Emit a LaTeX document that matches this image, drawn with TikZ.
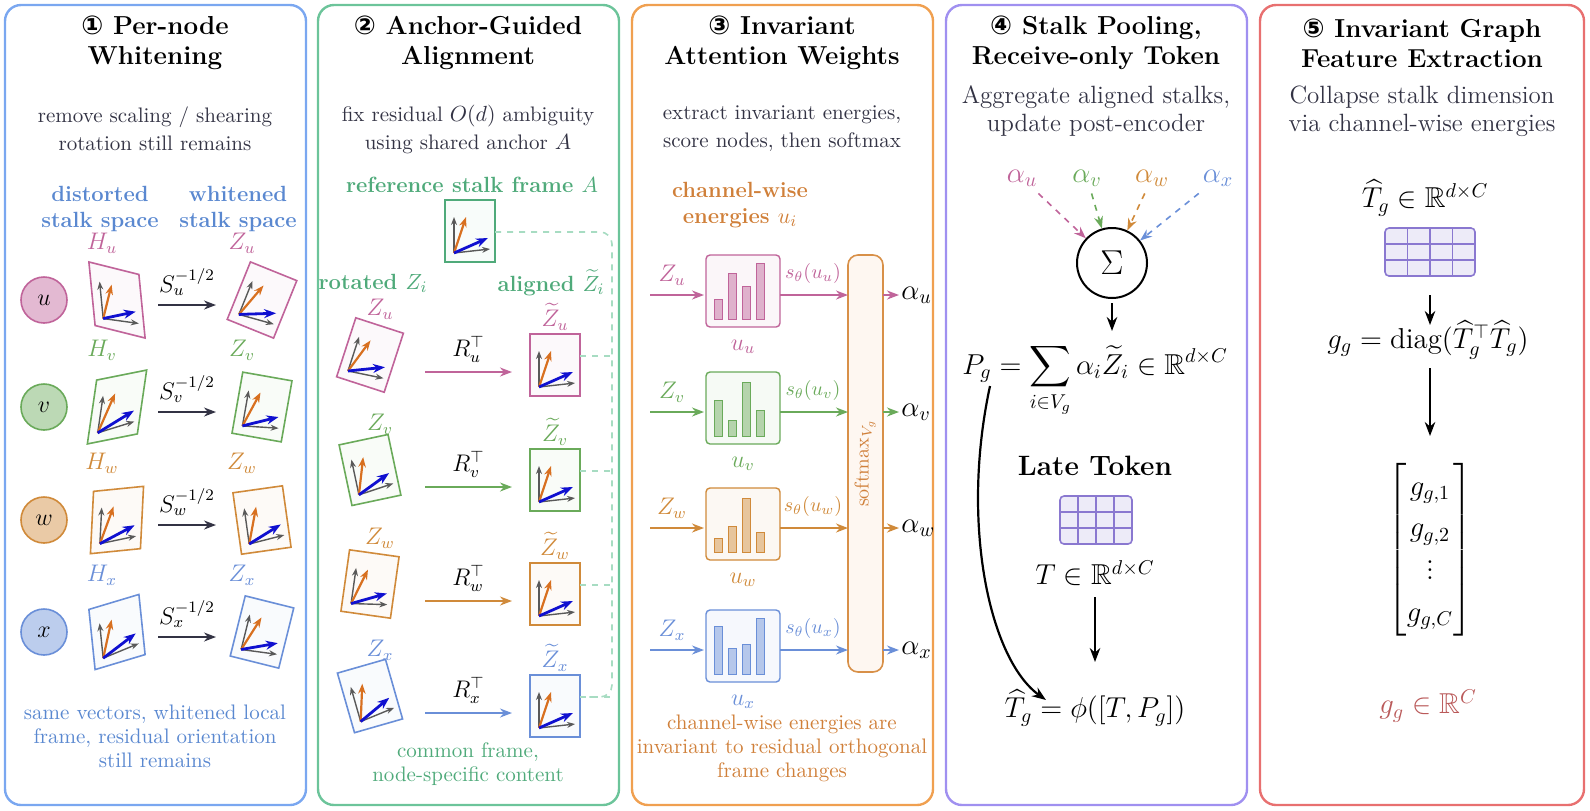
\documentclass[tikz,border=0pt]{standalone}
\usepackage{amsmath,amssymb}
\usepackage{fontspec}
\newfontfamily\dvs{DejaVu Sans}
\usetikzlibrary{arrows.meta}
\definecolor{cu}{HTML}{C0649A}
\definecolor{cv}{HTML}{6AAA5A}
\definecolor{cw}{HTML}{D08A3A}
\definecolor{cx}{HTML}{6A8FD8}
\definecolor{pb}{HTML}{7AA7F0}
\definecolor{pg}{HTML}{6CC49A}
\definecolor{po}{HTML}{F0A050}
\definecolor{pp}{HTML}{A090F0}
\definecolor{pr}{HTML}{E87070}
\definecolor{tb}{HTML}{5A88D0}
\definecolor{tg}{HTML}{4FAA7A}
\definecolor{to}{HTML}{D0803A}
\definecolor{txt}{HTML}{333344}
\definecolor{gpur}{HTML}{8A78D0}
\definecolor{ora}{HTML}{D87020}
\definecolor{blv}{HTML}{1010D0}
\newcommand\stk[4]{%
\begin{scope}[shift={(#1,#2)},#4]
\draw[#3,fill=#3!4,line width=0.8pt] (-25,-31) rectangle (25,31);
\draw[gray!70!black,line width=0.7pt,-{Stealth[length=4pt]}] (-16,22)--(-16,-14);
\draw[gray!70!black,line width=0.7pt,-{Stealth[length=4pt]}] (-16,22)--(20,18);
\draw[ora,line width=1.1pt,-{Stealth[length=5pt]}] (-16,22)--(-4,-14);
\draw[blv,line width=1.4pt,-{Stealth[length=6pt]}] (-16,22)--(18,7);
\end{scope}}
\newcommand\bars[6]{% x y color h1..h3
\begin{scope}[shift={(#1,#2)}]
\draw[#3,fill=#3!6,rounded corners=2pt,line width=0.7pt] (0,0) rectangle (74,72);
\foreach \i/\h in {0/#4,1/#5,2/#6} {\draw[#3,fill=#3!50,line width=0.5pt] (8+\i*14,64) rectangle (16+\i*14,64-\h);}
\end{scope}}
\newcommand\grid[3]{% x y w
\begin{scope}[shift={(#1,#2)}]
\draw[gpur,fill=gpur!15,rounded corners=2pt,line width=0.8pt] (0,0) rectangle (#3,48);
\foreach \k in {1,2,3} \draw[gpur,line width=0.6pt] (\k*#3/4,0)--(\k*#3/4,48);
\foreach \k in {1,2} \draw[gpur,line width=0.6pt] (0,\k*16)--(#3,\k*16);
\end{scope}}
\begin{document}
\begin{tikzpicture}[x=0.5pt,y=-0.5pt,
 panel/.style={rounded corners=8pt,line width=1.2pt},
 ttl/.style={font=\fontsize{13}{15}\selectfont\bfseries,text=black,align=center},
 ttls/.style={font=\fontsize{11}{13}\selectfont\bfseries,align=center},
 sub/.style={font=\fontsize{10.5}{14}\selectfont,text=txt,align=center},
 sub2/.style={font=\fontsize{12.5}{14}\selectfont,text=txt,align=center},
 bot/.style={font=\fontsize{10.5}{12}\selectfont,align=center},
 lab/.style={font=\large},
 arr/.style={line width=0.9pt,-{Stealth[length=6pt]}},
 barr/.style={line width=1pt,-{Stealth[length=7pt]}}]
\useasboundingbox (0,0) rectangle (1590,810);
% panels
\draw[panel,pb] (5,5) rectangle (306,805);
\draw[panel,pg] (318,5) rectangle (619,805);
\draw[panel,po] (632,5) rectangle (933,805);
\draw[panel,pp] (946,5) rectangle (1247,805);
\draw[panel,pr] (1260,5) rectangle (1584,805);
% ---------- Panel 1
\node[ttl] (t1) at (155,43) {{\dvs ①} Per-node\\Whitening};
\node[sub] (s1) at (155,129) {remove scaling / shearing\\rotation still remains};
\node[ttls,text=tb] (d1) at (100,209) {distorted\\stalk space};
\node[ttls,text=tb] (w1) at (238,209) {whitened\\stalk space};
\foreach \n/\c/\y/\sa/\sb/\r in {u/cu/300/-0.25/-0.1/-22,v/cv/407/0.2/0.15/-10,w/cw/520/0.1/0.05/8,x/cx/632/0.3/-0.1/-14} {
 \node[circle,draw=\c,fill=\c!45,line width=0.8pt,inner sep=0pt,minimum size=23pt,font=\large] (n\n) at (44,\y) {$\n$};
 \stk{117}{\y}{\c}{yslant=\sa,xslant=\sb}
 \stk{262}{\y}{\c}{rotate=\r}
 \node[text=\c,lab] (h\n) at (102,\y-57) {$H_\n$};
 \node[text=\c,lab] (z\n) at (242,\y-57) {$Z_\n$};
 \coordinate (a\n) at (158,\y+5); \coordinate (b\n) at (216,\y+5);
 \draw[arr,txt] (a\n) -- node[above,text=black,lab,yshift=1pt] {$S_\n^{-1/2}$} (b\n);
}
\node[bot,text=tb] (f1) at (155,736) {same vectors, whitened local\\frame, residual orientation\\still remains};
% ---------- Panel 2
\node[ttl] (t2) at (468,43) {{\dvs ②} Anchor-Guided\\Alignment};
\node[sub] (s2) at (468,129) {fix residual $O(d)$ ambiguity\\using shared anchor $A$};
\node[ttls,text=tg] (r2) at (472,185) {reference stalk frame $A$};
\stk{470}{231}{tg}{}
\coordinate (aR) at (495,232);
\node[ttls,text=tg] (ro) at (373,283) {rotated $Z_i$};
\node[ttls,text=tg] (al) at (551,283) {aligned $\widetilde Z_i$};
\draw[pg!60,dashed,line width=0.8pt,rounded corners=6pt] (aR) -- (612,232) -- (612,697) -- (580,697);
\foreach \n/\c/\y/\r in {u/cu/365/-18,v/cv/480/12,w/cw/594/-8,x/cx/706/16} {
 \stk{370}{\y-10}{\c}{rotate=\r}
 \stk{555}{\y}{\c}{}
 \node[text=\c,lab] (rz\n) at (380,\y-56) {$Z_\n$};
 \node[text=\c,lab] (az\n) at (555,\y-48) {$\widetilde Z_\n$};
 \coordinate (ra\n) at (425,\y+7); \coordinate (rb\n) at (512,\y+7);
 \draw[arr,\c] (ra\n) -- node[above,text=black,lab,yshift=1pt] {$R_\n^{\top}$} (rb\n);
 \draw[pg!60,dashed,line width=0.8pt] (580,\y-9) -- (612,\y-9);
}
\node[bot,text=tg] (f2) at (468,764) {common frame,\\node-specific content};
% ---------- Panel 3
\node[ttl] (t3) at (782,43) {{\dvs ③} Invariant\\Attention Weights};
\node[sub] (s3) at (782,129) {extract invariant energies,\\score nodes, then softmax};
\node[ttls,text=to] (ce) at (740,205) {channel-wise\\energies $u_i$};
\draw[po!90!black,fill=po!8,rounded corners=5pt,line width=0.8pt] (848,255) rectangle (883,672);
\node[rotate=90,text=to,font=\normalsize] (smx) at (865,463) {softmax$_{V_g}$};
\foreach \n/\c/\y/\ha/\hb/\hc/\hd in {u/cu/295/20/46/33/56,v/cv/412/36/16/54/26,w/cw/528/14/26/54/20,x/cx/650/48/26/30/56} {
 \bars{706}{\y-40}{\c}{\ha}{\hb}{\hc}
 \draw[\c,fill=\c!50,line width=0.5pt] (706+8+42,\y-40+64) rectangle (706+16+42,\y-40+64-\hd);
 \node[text=\c,lab] (eu\n) at (743,\y+52) {$u_\n$};
 \node[text=\c,lab] (cz\n) at (672,\y-20) {$Z_\n$};
 \coordinate (ca\n) at (650,\y); \coordinate (cb\n) at (704,\y);
 \draw[arr,\c] (ca\n) -- (cb\n);
 \coordinate (sa\n) at (780,\y); \coordinate (sb\n) at (848,\y);
 \draw[arr,\c] (sa\n) -- (sb\n);
 \node[text=\c,font=\normalsize] (st\n) at (813,\y-22) {$s_\theta(u_\n)$};
 \coordinate (oa\n) at (883,\y);
 \node[anchor=west,font=\Large,inner sep=1pt] (al\n) at (899,\y) {$\alpha_\n$};
 \draw[arr,\c] (oa\n) -- (al\n);
}
\node[bot,text=to] (f3) at (782,748) {channel-wise energies are\\invariant to residual orthogonal\\frame changes};
% ---------- Panel 4
\node[ttl] (t4) at (1096,43) {{\dvs ④} Stalk Pooling,\\Receive-only Token};
\node[sub2] (s4) at (1096,111) {Aggregate aligned stalks,\\update post-encoder};
\node[circle,draw=black,line width=1pt,minimum size=35pt,font=\LARGE] (sig) at (1112,263) {$\Sigma$};
\foreach \n/\c/\x in {u/cu/1022,v/cv/1087,w/cw/1152,x/cx/1218} {
 \node[text=\c,font=\Large] (pa\n) at (\x,178) {$\alpha_\n$};
 \draw[\c,dashed,line width=0.8pt,-{Stealth[length=6pt]}] (pa\n) -- (sig);
}
\node[font=\Large,anchor=base] (pg) at (1095,374) {$P_g=\displaystyle\sum_{i\in V_g}\alpha_i\widetilde Z_i\in\mathbb{R}^{d\times C}$};
\coordinate (sg1) at (1112,303);
\draw[barr] (sg1) -- (1112,331);
\node[ttl,font=\fontsize{14}{16}\selectfont\bfseries] (lt) at (1095,466) {Late Token};
\grid{1060}{496}{72}
\node[font=\Large] (tt) at (1095,573) {$T\in\mathbb{R}^{d\times C}$};
\node[font=\Large] (th) at (1095,708) {$\widehat T_g=\phi([T,P_g])$};
\coordinate (tta) at (1095,597);
\draw[barr] (tta) -- (1095,662);
\coordinate (pgl) at (990,386);
\draw[line width=1.1pt,-{Stealth[length=7pt]}] (pgl) .. controls (960,525) and (990,660) .. (1046,700);
% ---------- Panel 5
\node[ttl] (t5) at (1422,43) {{\dvs ⑤} Invariant Graph\\Feature Extraction};
\node[sub2] (s5) at (1422,111) {Collapse stalk dimension\\via channel-wise energies};
\node[font=\Large] (tg5) at (1425,198) {$\widehat T_g\in\mathbb{R}^{d\times C}$};
\grid{1385}{228}{90}
\coordinate (g5a) at (1430,295);
\draw[barr] (g5a) -- (1430,325);
\node[font=\Large] (gg) at (1428,340) {$g_g=\mathrm{diag}(\widehat T_g^{\top}\widehat T_g)$};
\coordinate (g5b) at (1430,368);
\draw[barr] (g5b) -- (1430,436);
\node[font=\Large] (vec) at (1430,550) {$\renewcommand\arraystretch{1.15}\begin{bmatrix} g_{g,1}\\ g_{g,2}\\ \vdots\\ g_{g,C}\end{bmatrix}$};
\node[font=\Large,text=pr!80!black] (gr) at (1428,706) {$g_g\in\mathbb{R}^{C}$};
\end{tikzpicture}
\end{document}
